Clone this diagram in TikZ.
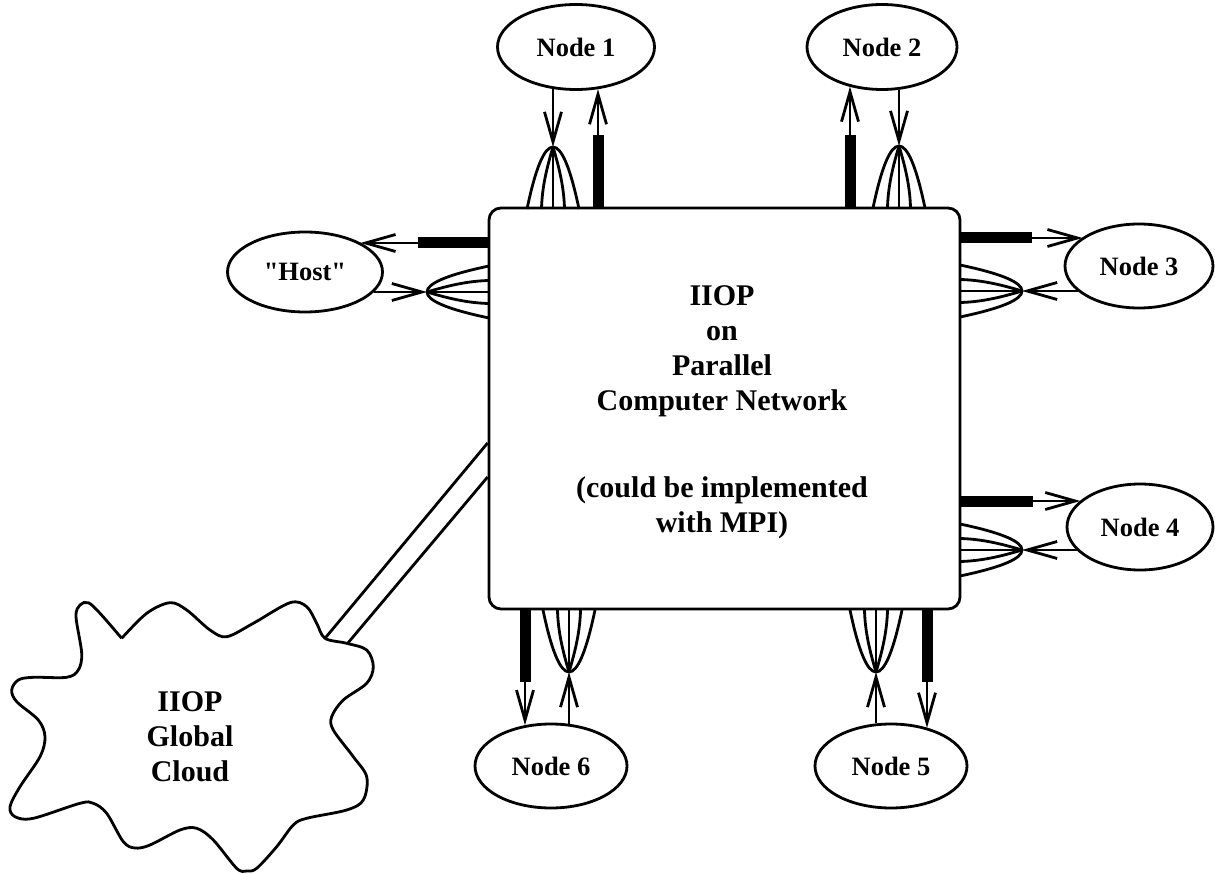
\documentclass[tikz,border=0pt]{standalone}
\usepackage{fontspec}
\setmainfont{Liberation Serif}[Ligatures=TeXOff]
\usetikzlibrary{arrows.meta,shapes.geometric}
\tikzset{
  lw/.style={line width=2.8pt},
  nd/.style={draw, ellipse, line width=2.8pt, inner sep=0pt, minimum width=152pt, minimum height=84pt,
             font=\fontsize{26.5}{30}\selectfont\bfseries},
  bigtext/.style={align=center, inner sep=0pt, font=\fontsize{30}{35}\selectfont\bfseries},
  thickbar/.style={line width=11pt},
  arr/.style={line width=2.8pt, -{Straight Barb[length=30pt,width=17pt]}},
  strand/.style={line width=2.8pt},
}
\newcommand{\fanshape}[4]{%
  \begin{scope}[shift={(#2,#3)}, rotate=#4]
    \coordinate (#1) at (0,0);
    \draw[strand] (-26,62) .. controls (-8.67,-20.67) and (8.67,-20.67) .. (26,62);
    \draw[strand] (0,0) .. controls (-6,20) and (-11,40) .. (-11.5,62);
    \draw[strand] (0,0) .. controls (6,20) and (11,40) .. (11.5,62);
    \draw[strand] (0,0) -- (0,62);
  \end{scope}}
\begin{document}
\begin{tikzpicture}[x=1pt,y=-1pt]
\useasboundingbox (0,0) rectangle (1215,874);

% main box
\node[draw, line width=2.8pt, rounded corners=12pt, minimum width=471pt, minimum height=401pt, inner sep=0pt] (net) at (724.5,408.5) {};
\node[bigtext] (title) at (722,351) {IIOP\\on\\Parallel\\Computer Network};
\node[bigtext] (impl) at (722,508) {(could be implemented\\with MPI)};

% nodes
\node[nd, minimum width=157pt, minimum height=85pt] (n1) at (576,47) {Node 1};
\node[nd, minimum width=150pt, minimum height=85pt] (n2) at (882,47) {Node 2};
\node[nd, minimum width=155pt, minimum height=80pt] (host) at (305,272) {"Host"};
\node[nd, minimum width=148pt, minimum height=84pt] (n3) at (1139,266) {Node 3};
\node[nd, minimum width=146pt, minimum height=86pt] (n4) at (1140,527) {Node 4};
\node[nd] (n6) at (551,766) {Node 6};
\node[nd] (n5) at (891,766) {Node 5};

% fans
\fanshape{f1}{553}{147}{0}
\fanshape{f2}{899}{146}{0}
\fanshape{fh}{427}{292}{90}
\fanshape{f3}{1022}{291}{-90}
\fanshape{f4}{1022}{550}{-90}
\fanshape{f6}{569}{672}{180}
\fanshape{f5}{876}{672}{180}

% incoming arrows
\draw[arr] (f1 |- n1.-120) -- (f1);
\draw[arr] (f2 |- n2.-68) -- (f2);
\draw[arr] (fh -| host.-16) -- (fh);
\draw[arr] (f3 -| n3.-157) -- (f3);
\draw[arr] (f4 -| n4.-160) -- (f4);
\draw[arr] (f6 |- n6.66) -- (f6);
\draw[arr] (f5 |- n5.110) -- (f5);

% outgoing bars
\coordinate (b1) at (598,135);
\coordinate (b2) at (850,135);
\coordinate (bh) at (418,243);
\coordinate (b3) at (1032,238);
\coordinate (b4) at (1033,501);
\coordinate (b6) at (525,682);
\coordinate (b5) at (927,682);
\draw[thickbar] (b1 |- net.north) -- (b1);
\draw[arr] (b1) -- (b1 |- n1.-62);
\draw[thickbar] (b2 |- net.north) -- (b2);
\draw[arr] (b2) -- (b2 |- n2.-130);
\draw[thickbar] (bh -| net.west) -- (bh);
\draw[arr] (bh) -- (bh -| host.28);
\draw[thickbar] (b3 -| net.east) -- (b3);
\draw[arr] (b3) -- (b3 -| n3.153);
\draw[thickbar] (b4 -| net.east) -- (b4);
\draw[arr] (b4) -- (b4 -| n4.156);
\draw[thickbar] (b6 |- net.south) -- (b6);
\draw[arr] (b6) -- (b6 |- n6.123);
\draw[thickbar] (b5 |- net.south) -- (b5);
\draw[arr] (b5) -- (b5 |- n5.46);

% cloud
\draw[lw] plot[smooth, tension=0.55] coordinates {
(121.7,638.3) (146.7,613.3) (170,602.7) (186.7,610) (210,630) (226.7,636.7)
(253.3,623.3) (290,602.7) (306.7,606.7) (316.7,623.3) (325,638.3)
(346.7,643.3) (366.7,650) (373.3,666.7) (366.7,683.3) (343.3,700) (331.7,716.7)
(333.3,730) (353.3,756.7) (366.7,776.7) (363.3,800) (346.7,810) (306.7,818.3)
(293.3,825) (276.7,846.7) (256.7,868.3) (246.7,871) (236.7,868.3) (213.3,840)
(196.7,828.3) (180,830) (150,845) (135,848) (123.3,841.7) (106.7,813.3)
(93.3,803.3) (80,803.3) (33.3,818.3) (15,816.7) (10,806.7) (20,786.7)
(40,756.7) (45,736.7) (38.3,720) (16.7,701.7) (11.7,690) (18.3,680)
(33.3,677.3) (66.7,677.3) (78.3,670) (81.7,653.3) (76,616.7) (80,605)
(88.3,602.7) (100,613.3) (121.7,638.3)};
\node[bigtext] (cloudtxt) at (190,737) {IIOP\\Global\\Cloud};

% connection cloud - box
\coordinate (k1) at (325,638.3);
\coordinate (k2) at (347.5,643.5);
\coordinate (y1) at (0,443);
\coordinate (y2) at (0,477);
\draw[lw] (net.west |- y1) -- (k1);
\draw[lw] (net.west |- y2) -- (k2);
\end{tikzpicture}
\end{document}
